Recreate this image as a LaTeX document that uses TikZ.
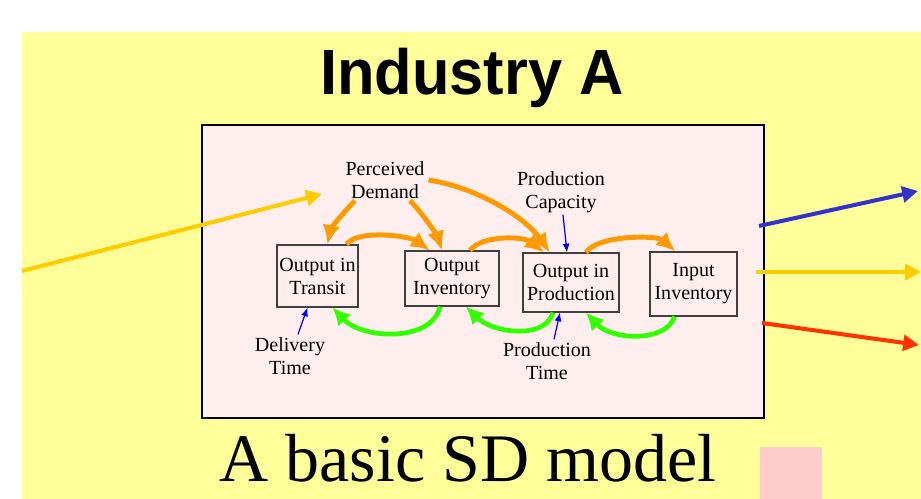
\documentclass[tikz,border=0pt]{standalone}
\usepackage{fontspec}
\setmainfont{Liberation Serif}
\newfontfamily\titlefont[FakeStretch=0.96]{Liberation Sans}
\usetikzlibrary{arrows.meta,positioning,calc}
\definecolor{slideyellow}{HTML}{FFFF99}
\definecolor{boxpink}{HTML}{FFEEEE}
\definecolor{patchpink}{HTML}{FFCCCC}
\definecolor{flowOrange}{HTML}{FF9900}
\definecolor{flowGreen}{HTML}{33FF00}
\definecolor{linkYellow}{HTML}{FFCC00}
\definecolor{linkBlue}{HTML}{3333CC}
\definecolor{linkRed}{HTML}{FF3300}

\begin{document}
\begin{tikzpicture}[x=0.02cm, y=-0.02cm,
        stocknode/.style={rectangle, draw=black!75, fill=boxpink, line width=0.6pt, align=center, inner sep=1pt, font=\fontsize{11.4}{13.1}\selectfont},
        auxnode/.style={align=center, inner sep=1pt, font=\fontsize{11.4}{13.1}\selectfont},
        orangearrow/.style={draw=flowOrange, line width=2.8pt, -{Latex[length=11pt,width=10pt]}},
        greenarrow/.style={draw=flowGreen, line width=2.7pt, -{Latex[length=10pt,width=10pt]}},
        delayarrow/.style={draw=blue, line width=0.7pt, -{Latex[length=5pt,width=4pt]}},
        linkarrow/.style={line width=2.3pt, -{Triangle[length=9pt,width=9pt]}},
    ]
    \useasboundingbox (0,0) rectangle (921,499);
    %Background
    \fill[white] (0,0) rectangle (921,499);
    \fill[slideyellow] (22,32) rectangle (921,499);
    \fill[patchpink] (760,447) rectangle (822,499);
    \draw[line width=1.1pt, fill=boxpink] (202,125) rectangle (764,418);
    %Titles
    \node[font=\titlefont\bfseries\fontsize{36.4}{40}\selectfont, anchor=base] (titlenode) at (472,95) {Industry A};
    \node[font=\fontsize{38.7}{44}\selectfont, anchor=base] (subtitlenode) at (468,482) {A basic SD model};
    %Nodes
    \node[stocknode, minimum width=1.62cm, minimum height=1.24cm] (transitnode) at (317.5,276) {Output in\\Transit};
    \node[stocknode, minimum width=1.88cm, minimum height=1.10cm] (inventorynode) at (452,278.5) {Output\\Inventory};
    \node[stocknode, minimum width=1.92cm, minimum height=1.18cm] (productionnode) at (571,282.5) {Output in\\Production};
    \node[stocknode, minimum width=1.74cm, minimum height=1.28cm] (inputnode) at (693.5,284) {Input\\Inventory};
    \node[auxnode] (demandnode) at (385,180) {Perceived\\Demand};
    \node[auxnode] (capacitynode) at (561,192) {Production\\Capacity};
    \node[auxnode] (deliverynode) at (290,356) {Delivery\\Time};
    \node[auxnode] (prodtimenode) at (547,361) {Production\\Time};
    %Free ends
    \coordinate (demandsrc) at (22,271);
    \coordinate (demandin) at (322,194);
    \coordinate (bluestart) at (759,226);
    \coordinate (blueend) at (918,191);
    \coordinate (yellowstart) at (756,272);
    \coordinate (yellowend) at (921,272);
    \coordinate (redstart) at (762,323);
    \coordinate (redend) at (919,345);
    %Orange links
    \draw[orangearrow] ($(demandnode.south)+(-30,0)$) .. controls +(-12,12) and +(3,-15) .. ($(transitnode.north)+(10,0)$);
    \draw[orangearrow] ($(demandnode.south)+(25,0)$) .. controls +(12,12) and +(-5,-15) .. ($(inventorynode.north)+(-10,0)$);
    \draw[orangearrow] ($(demandnode.east)+(2,0)$) .. controls +(50,8) and +(-25,-35) .. ($(productionnode.north)+(-21,0)$);
    \draw[orangearrow] ($(transitnode.north)+(29,0)$) .. controls +(12,-16) and +(-20,-14) .. ($(inventorynode.north)+(-22,0)$);
    \draw[orangearrow] ($(inventorynode.north)+(18,0)$) .. controls +(12,-16) and +(-20,-16) .. ($(productionnode.north)+(-27,0)$);
    \draw[orangearrow] ($(productionnode.north)+(15,0)$) .. controls +(12,-18) and +(-18,-16) .. ($(inputnode.north)+(-18,0)$);
    %Green links
    \draw[greenarrow] ($(inventorynode.south)+(-12,0)$) .. controls +(-8,36) and +(30,32) .. ($(transitnode.south)+(15,0)$);
    \draw[greenarrow] ($(productionnode.south)+(-18,0)$) .. controls +(-8,28) and +(26,26) .. ($(inventorynode.south)+(14,0)$);
    \draw[greenarrow] ($(inputnode.south)+(-19,0)$) .. controls +(-8,26) and +(26,28) .. ($(productionnode.south)+(15,0)$);
    %Blue links
    \draw[delayarrow] ($(deliverynode.north)+(8,-1)$) -- ($(transitnode.south)+(-10,0)$);
    \draw[delayarrow] ($(capacitynode.south)+(2,0)$) -- ($(productionnode.north)+(-4,0)$);
    \draw[delayarrow] ($(prodtimenode.north)+(7,-1)$) -- ($(productionnode.south)+(-11,0)$);
    %Outer links
    \draw[linkarrow, linkYellow] (demandsrc) -- (demandin);
    \draw[linkarrow, linkBlue] (bluestart) -- (blueend);
    \draw[linkarrow, linkYellow] (yellowstart) -- (yellowend);
    \draw[linkarrow, linkRed] (redstart) -- (redend);
\end{tikzpicture}
\end{document}
